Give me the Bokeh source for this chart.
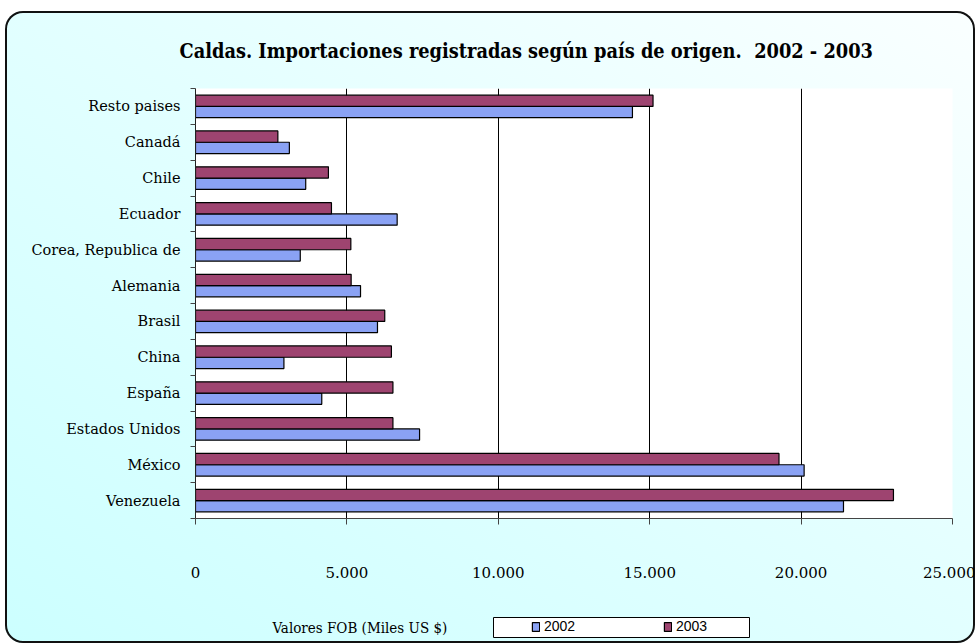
from bokeh.plotting import figure
from bokeh.layouts import column
from bokeh.models import FixedTicker, Legend, LegendItem, ColumnDataSource
from bokeh.core.properties import value
from bokeh.embed import file_html
from bokeh.resources import INLINE

# ---- data ----
countries = ["Venezuela", "México", "Estados Unidos", "España", "China", "Brasil",
             "Alemania", "Corea, Republica de", "Ecuador", "Chile", "Canadá", "Resto paises"]
v2002 = [21400, 20100, 7400, 4170, 2920, 6010, 5450, 3460, 6660, 3640, 3100, 14430]
v2003 = [23050, 19270, 6520, 6520, 6470, 6250, 5140, 5130, 4490, 4390, 2720, 15110]
x_ticks = [0, 5000, 10000, 15000, 20000, 25000]
x_tick_labels = ["0", "5.000", "10.000", "15.000", "20.000", "25.000"]
series = ["2002", "2003"]
colors = ["#8AA2F4", "#9E4470"]

title = "Caldas. Importaciones registradas según país de origen.\u00a0 2002 - 2003"
x_title = "Valores FOB (Miles US $)"

n = len(countries)
bar_h = 0.315
centers = [i + 0.5 for i in range(n)]

W = 970
H1 = 589
H2 = 43
BL, BR = 190, 23

p = figure(width=W, height=H1, x_range=(0, 25000), y_range=(0, n),
           output_backend="svg", toolbar_location=None,
           min_border_left=BL, min_border_right=BR, min_border_top=77, min_border_bottom=82,
           border_fill_color=None, background_fill_color="white", outline_line_color=None)

p.title.text = title
p.title.align = "left"
p.title.offset = -16
p.title.standoff = 51
p.title.text_font = "DejaVu Serif Condensed"
p.title.text_font_style = "bold"
p.title.text_font_size = "19.8px"
p.title.text_color = "black"

src = ColumnDataSource(dict(
    y02=[c - bar_h / 2 for c in centers],
    y03=[c + bar_h / 2 for c in centers],
    v02=v2002, v03=v2003))

p.hbar(y="y02", right="v02", left=0, height=bar_h, source=src,
       fill_color=colors[0], line_color="black", line_width=1.2)
p.hbar(y="y03", right="v03", left=0, height=bar_h, source=src,
       fill_color=colors[1], line_color="black", line_width=1.2)

# axes
p.xaxis.ticker = FixedTicker(ticks=x_ticks)
p.xaxis.major_label_overrides = {t: l for t, l in zip(x_ticks, x_tick_labels)}
p.xaxis.major_label_text_font = "DejaVu Serif"
p.xaxis.major_label_text_font_size = "15px"
p.xaxis.major_label_text_color = "black"
p.xaxis.major_label_standoff = 42
p.xaxis.major_tick_out = 6
p.xaxis.major_tick_in = 0
p.xaxis.minor_tick_line_color = None
p.xaxis.axis_line_color = "#444444"
p.xaxis.major_tick_line_color = "#444444"

p.yaxis.ticker = FixedTicker(ticks=centers, minor_ticks=list(range(n + 1)))
p.yaxis.major_label_overrides = {c: name for c, name in zip(centers, countries)}
p.yaxis.major_label_text_font = "DejaVu Serif"
p.yaxis.major_label_text_font_size = "14.5px"
p.yaxis.major_label_text_color = "black"
p.yaxis.major_label_standoff = 9
p.yaxis.major_tick_line_color = None
p.yaxis.minor_tick_out = 5
p.yaxis.minor_tick_in = 0
p.yaxis.minor_tick_line_color = "#444444"
p.yaxis.axis_line_color = "#222222"

p.xgrid.ticker = FixedTicker(ticks=x_ticks[1:-1])
p.xgrid.grid_line_color = "black"
p.xgrid.grid_line_width = 1
p.ygrid.grid_line_color = None

# ---- bottom strip: axis title + legend (frame aligned with main frame) ----
q = figure(width=W, height=H2, x_range=(BL, W - BR), y_range=(0, H2),
           output_backend="svg", toolbar_location=None,
           min_border_left=BL, min_border_right=BR, min_border_top=0, min_border_bottom=0,
           border_fill_color=None, background_fill_color=None, outline_line_color=None)
q.axis.visible = False
q.grid.visible = False

q.text(x=[267], y=[16], text=[x_title], text_align="left", text_baseline="middle",
       text_font=value("DejaVu Serif Condensed"), text_font_size="15px", text_color="black")

# legend frame
q.quad(left=[488], right=[744], bottom=[6], top=[26], fill_color="white",
       line_color="black", line_width=1)

d02 = q.hbar(y=[-50], right=[1], left=0, height=1, fill_color=colors[0],
             line_color="black", line_width=1.2)
d03 = q.hbar(y=[-50], right=[1], left=0, height=1, fill_color=colors[1],
             line_color="black", line_width=1.2)

for r, name, xloc in [(d02, series[0], 526), (d03, series[1], 658)]:
    lg = Legend(items=[LegendItem(label=name, renderers=[r])],
                location=(xloc - BL, 9), orientation="horizontal",
                padding=0, margin=0, glyph_width=9, glyph_height=11, label_standoff=4,
                label_height=14, label_text_font="Liberation Sans",
                label_text_font_size="14px", label_text_color="black",
                label_text_baseline="middle",
                background_fill_alpha=0, border_line_color=None)
    q.add_layout(lg, "center")

layout = column(p, q, spacing=0, styles={
    "margin-left": "5px", "margin-top": "11px",
    "background": "linear-gradient(to bottom left, #FAFFFF 0%, #E4FFFF 45%, #CCFFFF 100%)",
    "border-radius": "18px",
    "box-shadow": "inset 0 0 0 2px #111"})

open("out.html", "w").write(file_html(layout, INLINE))
